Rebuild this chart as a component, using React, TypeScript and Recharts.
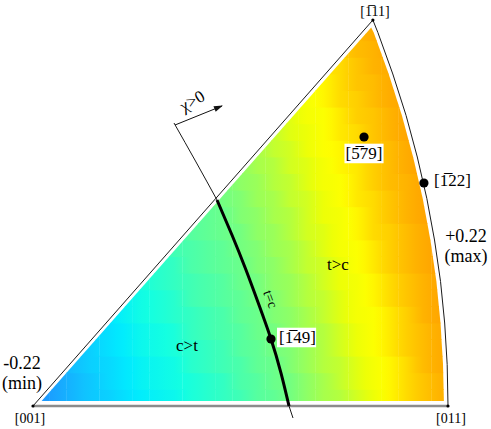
import React from 'react'
import { ComposedChart, Line, Scatter, XAxis, YAxis } from 'recharts'

const W = 491
const H = 429
// data units: [001] at (0,0), [011] at (1,0)
const X_DOMAIN: [number, number] = [-0.0795, 1.1036]
const Y_DOMAIN: [number, number] = [-0.0554, 0.9783]

const V_MIN = -0.22
const V_MAX = 0.22

// colour map cells (centres), value per cell read row by row from bottom
const CELL = 0.04
const CELL_X = [0.02, 0.06, 0.1, 0.14, 0.18, 0.22, 0.26, 0.3, 0.34, 0.38, 0.42, 0.46, 0.5, 0.54, 0.58, 0.62, 0.66, 0.7, 0.74, 0.78, 0.82, 0.86, 0.9, 0.94, 0.98]
const CELL_Y = [0.02, 0.06, 0.1, 0.14, 0.18, 0.22, 0.26, 0.3, 0.34, 0.38, 0.42, 0.46, 0.5, 0.54, 0.58, 0.62, 0.66, 0.7, 0.74, 0.78, 0.82, 0.86, 0.9, 0.94]
const ROW_START = [0, 0, 1, 2, 3, 4, 5, 6, 7, 7, 8, 9, 10, 11, 12, 13, 14, 14, 15, 16, 17, 18, 19, 20]
const ROW_VALUES: number[][] = [
  [-0.22, -0.2, -0.18, -0.16, -0.15, -0.13, -0.11, -0.1, -0.09, -0.07, -0.06, -0.05, -0.04, -0.02, -0.01, 0.01, 0.03, 0.05, 0.06, 0.08, 0.1, 0.13, 0.15, 0.17, 0.19],
  [-0.22, -0.2, -0.18, -0.16, -0.14, -0.12, -0.1, -0.09, -0.08, -0.07, -0.06, -0.05, -0.03, -0.02, 0.0, 0.01, 0.03, 0.05, 0.07, 0.09, 0.11, 0.13, 0.15, 0.17, 0.19],
  [-0.19, -0.17, -0.15, -0.14, -0.12, -0.1, -0.09, -0.08, -0.06, -0.05, -0.04, -0.03, -0.01, 0.0, 0.02, 0.04, 0.06, 0.07, 0.09, 0.11, 0.13, 0.15, 0.18, 0.2],
  [-0.17, -0.15, -0.13, -0.11, -0.09, -0.08, -0.07, -0.06, -0.05, -0.04, -0.02, -0.01, 0.01, 0.02, 0.04, 0.06, 0.08, 0.1, 0.12, 0.14, 0.16, 0.18, 0.2],
  [-0.14, -0.13, -0.11, -0.09, -0.08, -0.07, -0.05, -0.04, -0.03, -0.02, 0.0, 0.01, 0.03, 0.05, 0.06, 0.08, 0.1, 0.12, 0.14, 0.16, 0.18, 0.2],
  [-0.12, -0.1, -0.08, -0.07, -0.06, -0.05, -0.04, -0.03, -0.01, 0.0, 0.02, 0.03, 0.05, 0.07, 0.09, 0.11, 0.12, 0.14, 0.16, 0.19, 0.21],
  [-0.1, -0.08, -0.07, -0.06, -0.04, -0.03, -0.02, -0.01, 0.01, 0.02, 0.04, 0.06, 0.07, 0.09, 0.11, 0.13, 0.15, 0.17, 0.19, 0.21],
  [-0.07, -0.06, -0.05, -0.04, -0.03, -0.02, 0.0, 0.01, 0.03, 0.04, 0.06, 0.08, 0.1, 0.11, 0.13, 0.15, 0.17, 0.19, 0.21],
  [-0.06, -0.05, -0.03, -0.02, -0.01, 0.0, 0.02, 0.03, 0.05, 0.07, 0.08, 0.1, 0.12, 0.14, 0.16, 0.18, 0.2, 0.22],
  [-0.05, -0.04, -0.03, -0.02, -0.01, 0.01, 0.02, 0.04, 0.05, 0.07, 0.09, 0.11, 0.12, 0.14, 0.16, 0.18, 0.2, 0.22],
  [-0.04, -0.02, -0.01, 0.0, 0.01, 0.03, 0.04, 0.06, 0.08, 0.09, 0.11, 0.13, 0.15, 0.16, 0.18, 0.2, 0.22],
  [-0.02, -0.01, 0.0, 0.02, 0.03, 0.05, 0.06, 0.08, 0.1, 0.11, 0.13, 0.15, 0.17, 0.19, 0.21, 0.22],
  [0.0, 0.01, 0.02, 0.04, 0.05, 0.07, 0.08, 0.1, 0.12, 0.14, 0.15, 0.17, 0.19, 0.21],
  [0.01, 0.03, 0.04, 0.06, 0.07, 0.09, 0.11, 0.12, 0.14, 0.16, 0.18, 0.19, 0.21],
  [0.03, 0.05, 0.06, 0.08, 0.09, 0.11, 0.13, 0.14, 0.16, 0.18, 0.2, 0.22],
  [0.05, 0.07, 0.08, 0.1, 0.12, 0.13, 0.15, 0.17, 0.18, 0.2, 0.22],
  [0.07, 0.09, 0.1, 0.12, 0.14, 0.15, 0.17, 0.19, 0.21],
  [0.08, 0.09, 0.11, 0.12, 0.14, 0.16, 0.17, 0.19, 0.21],
  [0.1, 0.11, 0.13, 0.15, 0.16, 0.18, 0.2, 0.21],
  [0.12, 0.13, 0.15, 0.17, 0.18, 0.2, 0.22],
  [0.14, 0.15, 0.17, 0.19, 0.2],
  [0.16, 0.18, 0.19, 0.21],
  [0.18, 0.2],
  [0.2],
]

// triangle outline
const EDGE_LEFT = [{ x: 0, y: 0 }, { x: 0.819, y: 0.93 }]
const EDGE_BOTTOM = [{ x: 0, y: 0 }, { x: 1, y: 0 }]
const ARC_RIGHT = [
  { x: 1.0, y: 0 }, { x: 0.998, y: 0.1 }, { x: 0.992, y: 0.2 }, { x: 0.982, y: 0.3 },
  { x: 0.9675, y: 0.4 }, { x: 0.949, y: 0.5 }, { x: 0.926, y: 0.6 }, { x: 0.899, y: 0.7 },
  { x: 0.867, y: 0.8 }, { x: 0.831, y: 0.9 }, { x: 0.819, y: 0.93 },
]
const CORNERS = [{ x: 0, y: 0 }, { x: 1, y: 0 }, { x: 0.819, y: 0.93 }]

// t = c trace
const TC_UPPER = [{ x: 0.3398, y: 0.6819 }, { x: 0.3928, y: 0.588 }, { x: 0.4434, y: 0.4964 }]
const TC_MAIN = [
  { x: 0.4434, y: 0.4964 }, { x: 0.4795, y: 0.412 }, { x: 0.5133, y: 0.3277 }, { x: 0.5446, y: 0.2434 },
  { x: 0.5735, y: 0.1614 }, { x: 0.5976, y: 0.0795 }, { x: 0.6169, y: 0 },
]
const TC_LOWER = [{ x: 0.6169, y: 0 }, { x: 0.6265, y: -0.0289 }]
const CHI_ARROW = [{ x: 0.3422, y: 0.6771 }, { x: 0.4554, y: 0.7229 }]

const POLES = [{ x: 0.7976, y: 0.6482 }, { x: 0.942, y: 0.5373 }, { x: 0.5735, y: 0.1614 }]

const LABELS = [
  { x: -0.0072, y: -0.041, text: '[001]' },
  { x: 1.0072, y: -0.041, text: '[011]' },
  { x: 0.824, y: 0.94, text: '[1\u030511]' },
  { x: -0.0265, y: 0.0892, text: '-0.22' },
  { x: -0.0265, y: 0.041, text: '(min)' },
  { x: 1.0434, y: 0.3952, text: '+0.22' },
  { x: 1.0434, y: 0.347, text: '(max)' },
  { x: 0.7976, y: 0.5952, text: '[5\u030579]' },
  { x: 0.9663, y: 0.53, text: '[1\u030522]' },
  { x: 0.5928, y: 0.1518, text: '[1\u030549]' },
  { x: 0.7349, y: 0.3277, text: 't>c' },
  { x: 0.371, y: 0.1325, text: 'c>t' },
  { x: 0.573, y: 0.258, text: 't=c' },
  { x: 0.383, y: 0.7357, text: '\u03c7>0' },
]

type LabelStyle = { size: number; anchor: 'start' | 'middle'; angle?: number; box?: boolean }
const LABEL_STYLES: LabelStyle[] = [
  { size: 14, anchor: 'middle' },
  { size: 14, anchor: 'middle' },
  { size: 14, anchor: 'middle' },
  { size: 18, anchor: 'middle' },
  { size: 18, anchor: 'middle' },
  { size: 18, anchor: 'middle' },
  { size: 18, anchor: 'middle' },
  { size: 17, anchor: 'middle', box: true },
  { size: 17, anchor: 'start' },
  { size: 17, anchor: 'start', box: true },
  { size: 17, anchor: 'middle' },
  { size: 17, anchor: 'middle' },
  { size: 14, anchor: 'middle', angle: 70 },
  { size: 17, anchor: 'middle', angle: -30 },
]

const COLOR_STOPS: [number, number[]][] = [
  [0, [30, 150, 255]],
  [0.12, [16, 195, 255]],
  [0.24, [0, 235, 255]],
  [0.33, [20, 255, 225]],
  [0.42, [70, 255, 175]],
  [0.52, [115, 255, 130]],
  [0.62, [170, 255, 72]],
  [0.72, [234, 255, 8]],
  [0.78, [255, 255, 0]],
  [0.86, [255, 208, 0]],
  [0.94, [255, 176, 0]],
  [1, [255, 160, 0]],
]

function valueColor(v: number): string {
  const t = Math.max(0, Math.min(1, (v - V_MIN) / (V_MAX - V_MIN)))
  for (let i = 1; i < COLOR_STOPS.length; i++) {
    const [t1, c1] = COLOR_STOPS[i]
    if (t <= t1) {
      const [t0, c0] = COLOR_STOPS[i - 1]
      const f = (t - t0) / (t1 - t0)
      const c = c0.map((a, k) => Math.round(a + (c1[k] - a) * f))
      return `rgb(${c[0]},${c[1]},${c[2]})`
    }
  }
  return 'rgb(255,160,0)'
}

// each cell carries its row neighbours so the fill can blend across cell borders
const cells = ROW_VALUES.flatMap((row, j) =>
  row.map((v, k) => ({
    id: `${j}-${k}`,
    x: CELL_X[ROW_START[j] + k],
    y: CELL_Y[j],
    v,
    vl: k > 0 ? row[k - 1] : v,
    vr: k < row.length - 1 ? row[k + 1] : v,
  })),
)
const labelData = LABELS.map((l, i) => ({ ...l, i }))

// pixel mapping, only used for the clip region of the colour cells
const UNIT = W / (X_DOMAIN[1] - X_DOMAIN[0])
const px = (x: number) => (x - X_DOMAIN[0]) * UNIT
const py = (y: number) => H - (y - Y_DOMAIN[0]) * UNIT
const INSET = 0.01
const clipPts = [
  { x: 0.8806 * INSET + INSET * 1.2, y: INSET * 1.2 },
  { x: ARC_RIGHT[0].x - INSET, y: INSET * 1.2 },
  ...ARC_RIGHT.filter((p) => p.y > 0.02 && p.y < 0.91).map((p) => ({ x: p.x - INSET, y: p.y })),
  { x: 0.815, y: 0.912 },
]
const clipD = clipPts.map((p, i) => `${i ? 'L' : 'M'}${px(p.x).toFixed(1)},${py(p.y).toFixed(1)}`).join(' ') + ' Z'

const FONT = "'Liberation Serif', 'Times New Roman', Times, serif"

function CellShape(props: any) {
  const { cx, cy, payload } = props
  const s = CELL * UNIT
  const gid = `cell-${payload.id}`
  return (
    <g>
      <defs>
        <linearGradient id={gid} x1="0" y1="0" x2="1" y2="0">
          <stop offset="0%" stopColor={valueColor((payload.vl + payload.v) / 2)} />
          <stop offset="50%" stopColor={valueColor(payload.v)} />
          <stop offset="100%" stopColor={valueColor((payload.v + payload.vr) / 2)} />
        </linearGradient>
      </defs>
      <rect
        x={cx - s / 2}
        y={cy - s / 2 - 0.4}
        width={s + 0.3}
        height={s + 0.8}
        fill={`url(#${gid})`}
        clipPath="url(#ipf-clip)"
      />
    </g>
  )
}

const NoShape = () => <g />

function PoleShape(props: any) {
  return <circle cx={props.cx} cy={props.cy} r={4.6} fill="#000" />
}

function CornerShape(props: any) {
  return <circle cx={props.cx} cy={props.cy} r={1.6} fill="#000" />
}

function LabelShape(props: any) {
  const { cx, cy, payload } = props
  const st = LABEL_STYLES[payload.i]
  const rot = st.angle ? `rotate(${st.angle} ${cx} ${cy})` : undefined
  const w = st.size * 2.3
  return (
    <g transform={rot}>
      {st.box && (
        <rect
          x={st.anchor === 'middle' ? cx - w / 2 : cx - 2}
          y={cy - st.size * 0.9}
          width={w}
          height={st.size * 1.15}
          fill="#fff"
        />
      )}
      <text
        x={cx}
        y={cy}
        dy={st.angle ? '0.35em' : undefined}
        textAnchor={st.anchor}
        style={{ fontFamily: FONT }}
        fontSize={st.size}
        fill="#000"
      >
        {payload.text}
      </text>
    </g>
  )
}

function ArrowHead(props: any) {
  const { cx, cy, index, points } = props
  if (index !== 1) return <g key={`a${index}`} />
  const p0 = points && points[0]
  const ang = p0 ? (Math.atan2(cy - p0.y, cx - p0.x) * 180) / Math.PI : -22
  return (
    <path
      key="arrowhead"
      d="M1,0 L-8,-3 L-8,3 Z"
      transform={`translate(${cx},${cy}) rotate(${ang})`}
      fill="#111"
    />
  )
}

export default function App() {
  return (
    <div style={{ position: 'absolute', left: 0, top: 0, width: W, height: H, background: '#fff' }}>
      <ComposedChart width={W} height={H} margin={{ top: 0, right: 0, bottom: 0, left: 0 }}>
        <defs>
          <clipPath id="ipf-clip">
            <path d={clipD} />
          </clipPath>
        </defs>
        <XAxis type="number" dataKey="x" domain={X_DOMAIN} allowDataOverflow hide />
        <YAxis type="number" dataKey="y" domain={Y_DOMAIN} allowDataOverflow hide />
        <Scatter data={cells} dataKey="y" shape={CellShape} isAnimationActive={false} />
        <Line data={EDGE_BOTTOM} dataKey="y" type="linear" stroke="#8c8c8c" strokeWidth={2.4} dot={false} isAnimationActive={false} />
        <Line data={EDGE_LEFT} dataKey="y" type="linear" stroke="#1a1a1a" strokeWidth={1} dot={false} isAnimationActive={false} />
        <Line data={ARC_RIGHT} dataKey="y" type="linear" stroke="#1a1a1a" strokeWidth={1} dot={false} isAnimationActive={false} />
        <Line data={TC_UPPER} dataKey="y" type="natural" stroke="#1a1a1a" strokeWidth={1} dot={false} isAnimationActive={false} />
        <Line data={TC_LOWER} dataKey="y" type="linear" stroke="#1a1a1a" strokeWidth={1} dot={false} isAnimationActive={false} />
        <Line data={CHI_ARROW} dataKey="y" type="linear" stroke="#111" strokeWidth={1} dot={ArrowHead} isAnimationActive={false} />
        <Scatter
          data={TC_MAIN}
          dataKey="y"
          line={{ stroke: '#000', strokeWidth: 3, fill: 'none' }}
          lineJointType="natural"
          shape={NoShape}
          isAnimationActive={false}
        />
        <Scatter data={CORNERS} dataKey="y" shape={CornerShape} isAnimationActive={false} />
        <Scatter data={POLES} dataKey="y" shape={PoleShape} isAnimationActive={false} />
        <Scatter data={labelData} dataKey="y" shape={LabelShape} isAnimationActive={false} />
      </ComposedChart>
    </div>
  )
}
